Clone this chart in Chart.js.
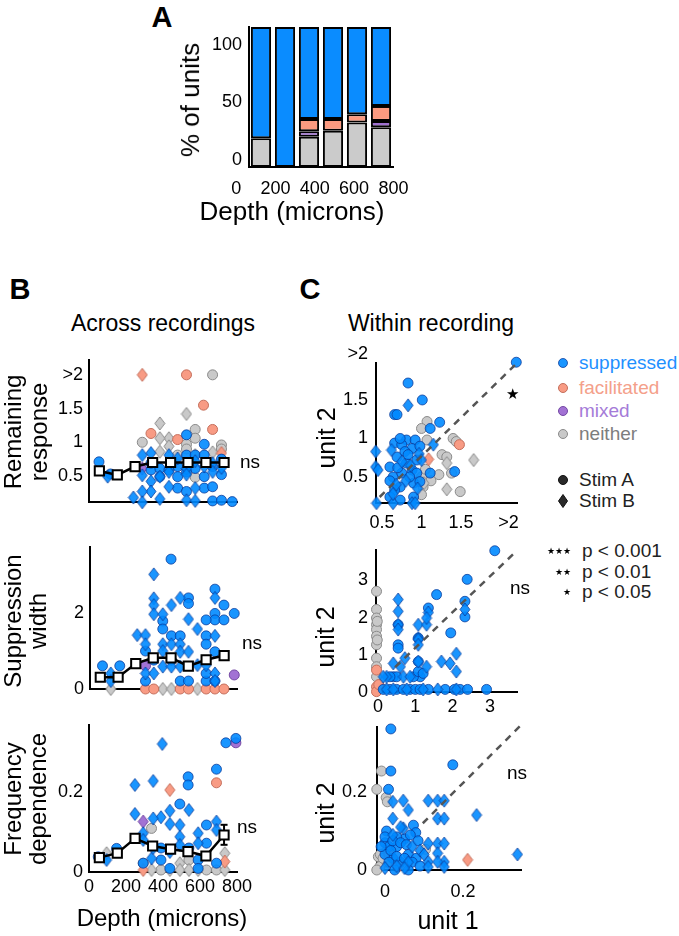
<!DOCTYPE html>
<html><head><meta charset="utf-8">
<script src="https://cdn.jsdelivr.net/npm/chart.js@4.4.1/dist/chart.umd.min.js"></script>
<style>
body{margin:0;background:#fff;width:679px;height:936px;position:relative;overflow:hidden;font-family:'Liberation Sans',Arial,sans-serif;}
canvas{position:absolute;}
.t{position:absolute;white-space:nowrap;color:#000;text-align:center;line-height:1.15;}
svg{position:absolute;overflow:visible;}
</style></head><body>
<script>
// ---------------- DATA ----------------
// Panel A: percentage of units per depth bin
const A_bins = ['0-133','133-267','267-400','400-533','533-667','667-800'];
const A_neither     = [20.5, null, 21.6, 25.9, 31.7, 28.4];
const A_mixed       = [null, null, 3.9, null, null, 4.5];
const A_facilitated = [null, null, 8.8, 8.4, 5.9, 10.7];
const A_suppressed  = [79.5, 100, 65.7, 65.7, 62.4, 56.4];
const A_yTicks = [0, 50, 100];
const depthTicks = [0, 200, 400, 600, 800];

// Panel B: depth bins + means
const depthBins = [56, 153, 249, 344, 441, 535, 632, 730];
const B1_mean = [0.575, 0.515, 0.64, 0.70, 0.70, 0.70, 0.70, 0.70];
const B2_mean = [0.31, 0.31, 0.67, 0.82, 0.82, 0.60, 0.77, 0.88];
const B3_mean = [0.036, 0.047, 0.084, 0.065, 0.057, 0.051, 0.040, 0.0925];
const B3_errLo = [0.033, 0.044, 0.077, 0.059, 0.052, 0.046, 0.034, 0.068];
const B3_errHi = [0.039, 0.050, 0.095, 0.071, 0.062, 0.056, 0.046, 0.118];

// B1 Remaining response  [depth, value]
const B1_supA = [[54,0.71],[116,0.53],[335,0.59],[383,0.61],[479,0.64],[479,0.49],[527,1.11],[527,0.81],[574,0.81],[574,0.61],[623,0.97],[623,0.81],[623,0.49],[623,0.32],[716,0.52],[479,0.32],[527,0.27],[668,0.34],[668,0.13],[716,0.14],[774,0.12],[432,0.59],[383,0.49],[335,0.69],[527,0.56],[668,0.64],[716,0.75]];
const B1_supB = [[101,0.49],[288,0.81],[335,0.84],[432,0.81],[288,0.51],[383,0.49],[432,0.56],[527,0.61],[527,0.52],[623,0.64],[668,0.69],[668,0.56],[335,0.42],[432,0.34],[335,0.27],[574,0.32],[240,0.18],[288,0.27],[288,0.11],[383,0.16],[527,0.14],[574,0.13],[479,0.76],[574,0.72],[716,0.62]];
const B1_facA = [[527,2.0],[619,1.55],[668,1.19],[335,1.13],[479,1.04]];
const B1_facB = [[288,2.0],[716,0.84]];
const B1_mixA = [];
const B1_mixB = [[288,0.61]];
const B1_neiA = [[668,2.0],[574,1.19],[527,0.97],[574,1.06],[288,1.0],[716,0.96],[716,0.9],[479,0.81],[574,0.48],[527,0.9]];
const B1_neiB = [[527,1.42],[383,1.28],[432,1.06],[383,1.06],[432,0.94],[383,0.86],[574,0.81],[668,0.85]];

// B2 Suppression width
const B2_supA = [[441,3.42],[680,2.63],[536,2.40],[536,2.25],[729,2.21],[785,1.99],[680,1.99],[680,1.82],[632,1.82],[729,1.82],[396,1.79],[396,1.58],[443,1.40],[491,1.40],[632,1.40],[632,1.18],[302,1.0],[680,0.98],[68,0.61],[162,0.61],[491,0.21],[536,0.21],[632,0.21],[680,0.21],[302,0.21],[632,0.41],[347,0.76],[443,0.76]];
const B2_supB = [[347,3.02],[680,2.40],[491,2.40],[347,2.39],[347,2.21],[347,1.97],[443,2.21],[396,1.97],[536,1.84],[585,1.58],[257,1.42],[302,1.42],[680,1.40],[302,1.18],[396,1.18],[443,1.18],[491,1.18],[396,1.0],[491,0.98],[536,0.98],[302,0.41],[347,0.41],[396,0.59],[443,0.59],[491,0.59],[585,0.63],[632,0.63],[680,0.41],[113,0.41],[113,0.21],[680,0.21]];
const B2_facA = [[302,0],[347,0],[491,0],[536,0],[632,0],[680,0],[729,0]];
const B2_facB = [];
const B2_mixA = [[302,0.61],[785,0.37]];
const B2_mixB = [];
const B2_neiA = [];
const B2_neiB = [[113,0],[396,0],[443,0],[585,0]];

// B3 Frequency dependence
const B3_supA = [[740,0.323],[794,0.334],[689,0.257],[536,0.238],[536,0.2175],[491,0.17],[635,0.1175],[635,0.072],[149,0.059],[293,0.022],[389,0.03],[437,0.009],[590,0.03],[590,0.009],[689,0.022],[50,0.038],[540,0.06],[389,0.06]];
const B3_supB = [[396,0.32],[248,0.2175],[347,0.2275],[540,0.155],[248,0.145],[437,0.153],[389,0.137],[347,0.134],[437,0.12],[491,0.1175],[689,0.126],[689,0.105],[590,0.097],[293,0.097],[293,0.08],[491,0.088],[491,0.0675],[590,0.072],[95,0.03],[338,0.034],[437,0.05],[347,0.06]];
const B3_facA = [[689,0.223]];
const B3_facB = [[437,0.205],[293,0.005],[734,0.026]];
const B3_mixA = [[794,0.323]];
const B3_mixB = [[293,0.126]];
const B3_neiA = [[338,0.109],[293,0.022],[389,0.005],[635,0.005],[689,0.005],[540,0.03]];
const B3_neiB = [[95,0.047],[338,0.005],[491,0.022],[491,0.005],[540,0.005],[734,0.047],[734,0.005],[590,0.005],[437,0.005]];

// C1 Remaining response (unit1, unit2)
const C1_supA = [[2.2,1.99],[0.83,1.72],[1.01,1.5],[0.66,1.31],[0.69,1.31],[1.23,1.21],[1.11,1.13],[0.66,0.94],[0.81,0.98],[0.92,0.98],[0.75,0.92],[0.88,0.87],[0.69,0.76],[0.79,0.83],[0.94,0.72],[0.6,0.63],[0.64,0.5],[0.75,0.55],[0.81,0.68],[0.88,0.59],[0.94,0.55],[0.9,0.42],[0.73,0.37],[0.66,0.33],[0.6,0.24],[0.73,0.2],[0.9,0.24],[0.98,0.44],[1.11,0.55],[1.42,0.57],[0.83,0.79],[0.98,0.9],[0.73,1.0],[0.6,0.45],[0.85,0.5],[0.7,0.62]];
const C1_supB = [[0.83,1.43],[0.42,0.83],[0.42,0.63],[0.45,0.59],[0.43,0.16],[0.64,0.16],[0.88,0.16],[0.92,0.16],[1.15,0.92],[0.75,0.7],[0.62,0.85],[0.86,0.65],[0.97,0.8],[0.68,0.4],[0.8,0.45],[0.95,0.35],[1.0,0.72],[0.64,0.28]];
const C1_facA = [[1.48,0.92]];
const C1_facB = [[1.09,0.73]];
const C1_mixA = [];
const C1_mixB = [];
const C1_neiA = [[1.07,1.22],[1.0,1.13],[1.4,1.0],[1.44,0.96],[1.07,0.98],[1.26,0.79],[1.32,0.76],[1.22,0.53],[1.38,0.55],[1.49,0.31],[1.0,0.5],[1.02,0.37],[1.0,0.27],[1.05,0.6],[1.12,0.45]];
const C1_neiB = [[1.66,0.72],[1.32,0.68],[1.32,0.34],[1.03,0.42]];
const C1_diag = [[0.47,0.24],[2.2,1.97]];

// C2 Suppression width
const C2_supA = [[3.13,3.8],[2.39,3.03],[1.57,2.62],[2.33,2.44],[2.33,2.02],[1.95,1.59],[1.35,2.26],[0.54,1.27],[0.54,1.18],[1.13,0.41],[2.91,0.07],[0.41,0.41],[0.5,0.41],[0.95,0.41],[1.08,0.55],[1.21,0.5],[0.14,0.07],[0.32,0.07],[0.5,0.07],[0.68,0.07],[0.86,0.07],[1.0,0.07],[1.13,0.07],[1.35,0.07],[1.8,0.07],[2.05,0.07],[2.2,0.07],[2.4,0.07],[0.32,0.41],[1.08,0.82],[0.54,1.81],[1.08,1.45]];
const C2_supB = [[1.35,2.14],[0.54,2.49],[0.54,2.17],[0.54,1.81],[0.54,1.68],[1.08,1.81],[1.08,1.45],[1.08,1.41],[1.08,1.27],[1.08,0.82],[1.3,1.81],[1.3,1.99],[1.7,0.82],[1.93,0.77],[2.1,1.03],[2.1,0.55],[0.72,0.91],[0.41,0.77],[0.23,0.41],[0.14,0.41],[0.68,0.41],[0.86,0.41],[2.33,2.22],[0.23,0.07],[0.41,0.07],[0.77,0.07],[1.21,0.07],[1.6,0.07],[2.1,0.07],[1.3,0.68],[0.6,0.68]];
const C2_facA = [[-0.04,0.59],[-0.04,0.14],[-0.04,0.01],[0.02,0.2]];
const C2_facB = [];
const C2_mixA = [];
const C2_mixB = [];
const C2_neiA = [[-0.04,2.71],[-0.04,2.22],[-0.04,1.99],[-0.04,1.81],[-0.04,1.68],[-0.04,1.5],[-0.04,1.27],[-0.04,0.91],[-0.04,0.68],[-0.04,0.41],[-0.02,1.9],[-0.02,1.4]];
const C2_neiB = [];
const C2_diag = [[0.46,0.67],[3.72,3.8]];

// C3 Frequency dependence
const C3_supA = [[0.015,0.362],[0.015,0.254],[0.009,0.207],[0.174,0.27],[0.073,0.115],[0.079,0.096],[0.004,0.1],[0.0,0.07],[0.01,0.06],[0.03,0.06],[0.06,0.04],[0.02,0.03],[0.04,0.02],[0.08,0.03],[0.0,0.04],[0.05,0.08],[0.03,0.085],[0.015,0.05],[0.0,0.085],[0.02,0.075],[0.04,0.07],[0.055,0.065],[0.01,0.02],[0.03,0.035],[0.05,0.03],[0.07,0.02],[0.09,0.01],[0.06,0.0],[0.025,0.0],[-0.01,0.06],[0.085,0.075],[0.065,0.09]];
const C3_supB = [[0.02,0.175],[0.047,0.178],[0.111,0.178],[0.135,0.178],[0.152,0.178],[0.06,0.154],[0.02,0.132],[0.135,0.132],[0.152,0.132],[0.235,0.141],[0.34,0.04],[0.047,0.107],[0.111,0.068],[0.135,0.068],[0.152,0.068],[0.135,0.043],[0.152,0.021],[0.111,0.021],[0.135,0.021],[0.152,0.008],[0.111,0.008],[0.09,0.05],[0.07,0.06],[0.06,0.02],[0.1,0.04],[0.03,0.01],[0.05,0.005],[0.0,0.005],[0.02,0.09],[0.04,0.11]];
const C3_facA = [[0.034,0.009],[0.01,0.04]];
const C3_facB = [[0.212,0.026]];
const C3_mixA = [];
const C3_mixB = [];
const C3_neiA = [[-0.009,0.254],[-0.021,0.207],[0.003,0.186],[0.006,0.175],[0.104,0.053],[-0.017,0.034],[-0.013,0.009],[-0.021,0.0],[0.0,0.045],[0.005,0.02],[-0.012,0.04],[-0.005,0.03],[0.01,0.05]];
const C3_neiB = [];
const C3_diag = [[0.097,0.12],[0.349,0.372]];

const GROUPS = {
  B1:{supA:B1_supA, supB:B1_supB, facA:B1_facA, facB:B1_facB, mixA:B1_mixA, mixB:B1_mixB, neiA:B1_neiA, neiB:B1_neiB},
  B2:{supA:B2_supA, supB:B2_supB, facA:B2_facA, facB:B2_facB, mixA:B2_mixA, mixB:B2_mixB, neiA:B2_neiA, neiB:B2_neiB},
  B3:{supA:B3_supA, supB:B3_supB, facA:B3_facA, facB:B3_facB, mixA:B3_mixA, mixB:B3_mixB, neiA:B3_neiA, neiB:B3_neiB},
  C1:{supA:C1_supA, supB:C1_supB, facA:C1_facA, facB:C1_facB, mixA:C1_mixA, mixB:C1_mixB, neiA:C1_neiA, neiB:C1_neiB},
  C2:{supA:C2_supA, supB:C2_supB, facA:C2_facA, facB:C2_facB, mixA:C2_mixA, mixB:C2_mixB, neiA:C2_neiA, neiB:C2_neiB},
  C3:{supA:C3_supA, supB:C3_supB, facA:C3_facA, facB:C3_facB, mixA:C3_mixA, mixB:C3_mixB, neiA:C3_neiA, neiB:C3_neiB}
};

// ---------------- STYLE ----------------
const FONT = "'Liberation Sans', Arial, sans-serif";
Chart.defaults.font.family = FONT;
Chart.defaults.color = '#000';
const COL = {
  sup:{fill:'rgba(0,138,255,0.9)', edge:'rgba(10,55,150,0.75)'},
  fac:{fill:'#f89b84', edge:'#c46f5c'},
  mix:{fill:'#a272d4', edge:'#7448a4'},
  nei:{fill:'#c9c9c9', edge:'#8a8a8a'}
};
function diamondImg(fill, edge, w, h){
  const c = document.createElement('canvas');
  c.width = w + 2; c.height = h + 2;
  const g = c.getContext('2d');
  g.beginPath();
  g.moveTo(c.width/2, 1); g.lineTo(c.width-1, c.height/2);
  g.lineTo(c.width/2, c.height-1); g.lineTo(1, c.height/2); g.closePath();
  g.fillStyle = fill; g.fill(); g.strokeStyle = edge; g.lineWidth = 1; g.stroke();
  return c;
}
const DIAM = {};
for (const k in COL) DIAM[k] = diamondImg(COL[k].fill, COL[k].edge, 10, 13);

function pts(a){ return a.map(p => ({x:p[0], y:p[1]})); }
function scatterSets(g){
  const out = []; let ord = 20;
  for (const k of ['nei','fac','mix','sup']) for (const s of ['A','B']) {
    const arr = g[k+s]; ord--;
    if (!arr || !arr.length) continue;
    out.push({data:pts(arr), showLine:false, pointStyle: s==='A' ? 'circle' : DIAM[k],
      pointRadius:5, pointBackgroundColor:COL[k].fill, pointBorderColor:COL[k].edge,
      pointBorderWidth:1, order:ord, clip:false});
  }
  return out;
}
function axis(min, max, ticks, labels, size, show, pad){
  return {type:'linear', min, max, offset:false,
    grid:{display:false, drawTicks:false, offset:false},
    border:{display:true, color:'#000', width:2},
    ticks:{display:show, font:{size:18, family:FONT}, color:'#000', padding:pad, autoSkip:false, maxRotation:0,
      callback:(v,i)=>labels[i]},
    afterBuildTicks:(s)=>{ s.ticks = ticks.map(v=>({value:v})); },
    afterFit:(s)=>{ if (s.isHorizontal()) s.height = size; else s.width = size;
      s.paddingLeft = s.paddingRight = s.paddingTop = s.paddingBottom = 0; }
  };
}
const WY = 60, PT = 22, PR = 26, HX = 34;
function canvasFor(area){
  const c = document.createElement('canvas');
  const W = area.R - area.L + WY + PR, H = area.B - area.T + PT + HX;
  c.width = W; c.height = H;
  c.style.left = (area.L - WY) + 'px'; c.style.top = (area.T - PT) + 'px';
  c.style.width = W + 'px'; c.style.height = H + 'px';
  document.body.appendChild(c);
  return c;
}
const baseOpts = {responsive:false, animation:false, events:[],
  layout:{padding:{top:PT, right:PR, left:0, bottom:0}},
  plugins:{legend:{display:false}, tooltip:{enabled:false}}};

function scatterChart(area, xs, ys, groups, extra){
  const ds = scatterSets(groups).concat(extra);
  new Chart(canvasFor(area), {type:'scatter', data:{datasets:ds},
    options:Object.assign({}, baseOpts, {scales:{x:xs, y:ys}})});
}
function meanSet(mean){
  return {data:depthBins.map((d,i)=>({x:d, y:mean[i]})), showLine:true, borderColor:'#000', borderWidth:2.5,
    pointStyle:'rect', pointRadius:6.5, pointBackgroundColor:'#fff', pointBorderColor:'#000', pointBorderWidth:2,
    order:0, clip:false};
}
function diagSet(d){
  return {data:pts(d), showLine:true, borderColor:'#555', borderWidth:2.5, borderDash:[7,6],
    pointRadius:0, order:0, clip:false};
}
function errSet(lo, hi){
  const d = [];
  depthBins.forEach((x,i)=>{ d.push({x, y:lo[i]}, {x, y:hi[i]}, {x, y:null}); });
  return {data:d, showLine:true, spanGaps:false, borderColor:'#000', borderWidth:2,
    pointStyle:'line', pointRadius:3.5, pointBorderColor:'#000', pointBorderWidth:2, order:1, clip:false};
}

// ---------------- PANEL A ----------------
(function(){
  const area = {L:249, T:27, R:393, B:167};
  const seg = (data, color) => ({data, backgroundColor:color, borderColor:'#000', borderWidth:2,
    borderSkipped:false, categoryPercentage:1, barPercentage:0.84});
  new Chart(canvasFor(area), {type:'bar',
    data:{labels:A_bins, datasets:[
      seg(A_neither, '#cbcbcb'), seg(A_mixed, '#9e6fcf'),
      seg(A_facilitated, '#fb9a80'), seg(A_suppressed, '#0a8cff')]},
    options:Object.assign({}, baseOpts, {scales:{
      x:{type:'category', display:false, stacked:true},
      y:{type:'linear', display:false, stacked:true, min:0, max:100},
      x2:Object.assign(axis(65, 798, depthTicks, depthTicks.map(String), HX, true, 11), {position:'bottom'}),
      y2:Object.assign(axis(-6.1, 115.7, A_yTicks, A_yTicks.map(String), WY, true, 7), {position:'left'})
    }})});
})();

// ---------------- PANEL B ----------------
scatterChart({L:89, T:360, R:237, B:502},
  axis(0, 800, depthTicks, depthTicks.map(String), HX, false, 4),
  axis(0.114, 2.22, [0.5,1,1.5,2], ['0.5','1','1.5','>2'], WY, true, 6),
  GROUPS.B1, [meanSet(B1_mean)]);
scatterChart({L:90, T:547, R:237, B:689},
  axis(0, 800, depthTicks, depthTicks.map(String), HX, false, 4),
  axis(0, 3.74, [0,2], ['0','2'], WY, true, 6),
  GROUPS.B2, [meanSet(B2_mean)]);
scatterChart({L:89, T:725, R:237, B:872},
  axis(0, 800, depthTicks, depthTicks.map(String), HX, true, 4),
  axis(0, 0.3675, [0,0.2], ['0','0.2'], WY, true, 6),
  GROUPS.B3, [errSet(B3_errLo, B3_errHi), meanSet(B3_mean)]);

// ---------------- PANEL C ----------------
scatterChart({L:376, T:363, R:517, B:503},
  axis(0.424, 2.209, [0.5,1,1.5,2.1], ['0.5','1','1.5','>2'], HX, true, 9),
  axis(0.162, 1.98, [0.5,1,1.5,2.1], ['0.5','1','1.5','>2'], WY, true, 8),
  GROUPS.C1, [diagSet(C1_diag)]);
scatterChart({L:376, T:550, R:517, B:692},
  axis(-0.054, 3.726, [0,1,2,3], ['0','1','2','3'], HX, true, 4),
  axis(0, 3.82, [0,1,2,3], ['0','1','2','3'], WY, true, 8),
  GROUPS.C2, [diagSet(C2_diag)]);
scatterChart({L:377, T:727, R:521, B:870},
  axis(-0.0205, 0.349, [0,0.2], ['0','0.2'], HX, true, 11),
  axis(0, 0.367, [0,0.2], ['0','0.2'], WY, true, 10),
  GROUPS.C3, [diagSet(C3_diag)]);

// ---------------- TEXT ----------------
function txt(s, x, y, size, o){
  o = o || {};
  const d = document.createElement('div');
  d.className = 't'; d.innerHTML = s;
  d.style.left = x + 'px'; d.style.top = y + 'px'; d.style.fontSize = size + 'px';
  if (o.bold) d.style.fontWeight = 'bold';
  if (o.color) d.style.color = o.color;
  if (o.lh) d.style.lineHeight = o.lh + 'px';
  const a = o.anchor || 'center';
  const tx = a === 'left' ? '0' : a === 'right' ? '-100%' : '-50%';
  d.style.transform = 'translate(' + tx + ',-50%)' + (o.rot ? ' rotate(-90deg)' : '');
  document.body.appendChild(d);
}
txt('A', 162, 18, 29, {bold:true});
txt('B', 20, 290, 29, {bold:true});
txt('C', 310, 290, 29, {bold:true});
txt('% of units', 191, 100, 26, {rot:true});
txt('Depth (microns)', 292, 212, 26);
txt('Across recordings', 163, 323, 23);
txt('Within recording', 431, 323, 23);
txt('Remaining<br>response', 26, 432, 24, {rot:true, lh:26});
txt('Suppression<br>width', 25, 621, 24, {rot:true, lh:25});
txt('Frequency<br>dependence', 25, 799, 24, {rot:true, lh:25});
txt('Depth (microns)', 162, 918, 24);
txt('unit 2', 326, 438, 25, {rot:true});
txt('unit 2', 325, 637, 25, {rot:true});
txt('unit 2', 325, 813, 25, {rot:true});
txt('unit 1', 448, 920, 25);
txt('ns', 240, 462, 19, {anchor:'left'});
txt('ns', 242, 643, 19, {anchor:'left'});
txt('ns', 237, 827, 19, {anchor:'left'});
txt('ns', 510, 588, 19, {anchor:'left'});
txt('ns', 507, 773, 19, {anchor:'left'});
txt('★', 512, 394, 15);

// legend
function mark(shape, fill, edge, x, y){
  const ns = 'http://www.w3.org/2000/svg';
  const s = document.createElementNS(ns, 'svg');
  s.setAttribute('width', 14); s.setAttribute('height', 16);
  s.style.left = (x - 7) + 'px'; s.style.top = (y - 8) + 'px';
  let e;
  if (shape === 'c') { e = document.createElementNS(ns, 'circle'); e.setAttribute('cx', 7); e.setAttribute('cy', 8); e.setAttribute('r', 4.5); }
  else { e = document.createElementNS(ns, 'polygon'); e.setAttribute('points', '7,1.5 11.5,8 7,14.5 2.5,8'); }
  e.setAttribute('fill', fill); e.setAttribute('stroke', edge); e.setAttribute('stroke-width', 1);
  s.appendChild(e); document.body.appendChild(s);
}
const legendRows = [['suppressed','sup','#1e90ff',363],['facilitated','fac','#f4a08a',388],['mixed','mix','#a57bd8',411],['neither','nei','#7d7d7d',434]];
legendRows.forEach(r => { mark('c', COL[r[1]].fill, COL[r[1]].edge, 563, r[3]); txt(r[0], 579, r[3], 19, {anchor:'left', color:r[2]}); });
mark('c', '#2a2a2a', '#111', 563, 480); txt('Stim A', 579, 480, 19, {anchor:'left', color:'#222'});
mark('d', '#2a2a2a', '#111', 563, 501); txt('Stim B', 579, 501, 19, {anchor:'left', color:'#222'});
[['★★★','p &lt; 0.001',551],['★★','p &lt; 0.01',572],['★','p &lt; 0.05',592]].forEach(r => {
  txt(r[0], 571, r[2], 9, {anchor:'right'}); txt(r[1], 582, r[2], 19, {anchor:'left', color:'#222'});
});
</script>
</body></html>
